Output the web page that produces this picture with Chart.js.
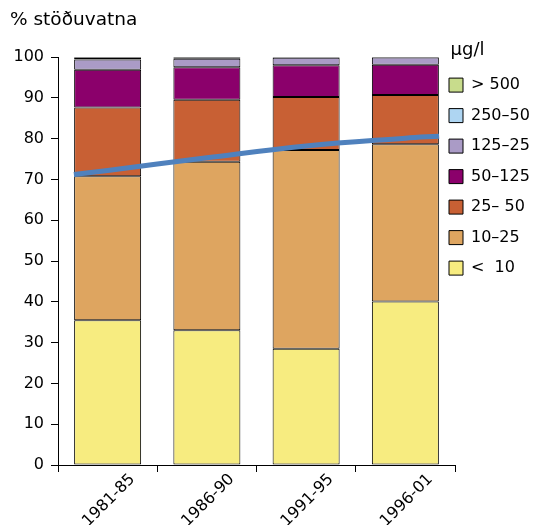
<!DOCTYPE html>
<html>
<head>
<meta charset="utf-8">
<script src="https://cdn.jsdelivr.net/npm/chart.js@4"></script>
<style>
html,body{margin:0;padding:0;background:#fff;}
#wrap{width:536px;height:525px;position:relative;}
</style>
</head>
<body>
<div id="wrap"><canvas id="c"></canvas></div>
<script>
const periods = ['1981-85', '1986-90', '1991-95', '1996-01'];
const classLabels = ['<  10', '10–25', '25– 50', '50–125', '125–25', '250–50', '> 500'];
const lt10     = [35.5, 33.0, 28.5, 40.1];
const c10_25   = [35.3, 41.3, 48.7, 38.5];
const c25_50   = [16.8, 15.2, 13.0, 12.1];
const c50_125  = [9.3, 8.0, 7.8, 7.4];
const c125_250 = [2.5, 2.1, 1.8, 1.8];
const c250_500 = [0.5, 0.3, 0.1, 0.1];
const gt500    = [0.1, 0.1, 0.1, 0.0];
const trendX = [-0.34, 0, 1, 2, 3, 3.34];
const trendY = [71.2, 72.2, 75.3, 78.2, 80.1, 80.6];
const yTicks = [0, 10, 20, 30, 40, 50, 60, 70, 80, 90, 100];

const seriesValues = [lt10, c10_25, c25_50, c50_125, c125_250, c250_500, gt500];
const colors = ['#F7EC80', '#DEA560', '#C86034', '#8B006B', '#AA9BC6', '#AED5F2', '#C8DC8C'];

Chart.defaults.font.family = "'DejaVu Sans', Verdana, sans-serif";
Chart.defaults.color = '#000';

const barSets = seriesValues.map((vals, i) => ({
  type: 'bar',
  label: classLabels[i],
  data: vals,
  backgroundColor: colors[i],
  borderColor: '#000',
  borderWidth: 1,
  borderSkipped: false,
  barPercentage: 0.675,
  categoryPercentage: 1,
  grouped: false,
  stack: 's',
  xAxisID: 'x',
  order: 2
}));

const lineSet = {
  type: 'line',
  label: 'trend',
  data: trendX.map((x, i) => ({x: x, y: trendY[i]})),
  borderColor: '#4F81BD',
  borderWidth: 5,
  pointRadius: 0,
  tension: 0.4,
  fill: false,
  xAxisID: 'xl',
  order: 1
};

const shiftLegend = {
  id: 'shiftLegend',
  afterLayout(chart) {
    if (chart.legend) { chart.legend.left -= 20.5; chart.legend.right = chart.width; }
  }
};

new Chart(document.getElementById('c'), {
  type: 'bar',
  data: { labels: periods, datasets: [...barSets, lineSet] },
  plugins: [shiftLegend],
  options: {
    responsive: true,
    maintainAspectRatio: false,
    animation: false,
    layout: { padding: { left: 10, right: 15, top: 0, bottom: 0 } },
    plugins: {
      tooltip: { enabled: false },
      title: {
        display: true,
        text: '% stöðuvatna',
        align: 'start',
        color: '#000',
        font: { size: 18.5, weight: 'normal' },
        padding: { top: 9.5, bottom: 25.3 }
      },
      legend: {
        display: true,
        position: 'right',
        align: 'start',
        reverse: true,
        maxWidth: 66,
        title: {
          display: true,
          text: 'µg/l',
          position: 'center',
          color: '#000',
          font: { size: 18 },
          padding: { top: 41, bottom: 0 }
        },
        labels: {
          boxWidth: 14,
          boxHeight: 14,
          padding: 14.5,
          color: '#000',
          font: { size: 16 },
          filter: (item) => item.datasetIndex < 7
        }
      }
    },
    scales: {
      x: {
        type: 'category',
        stacked: true,
        offset: true,
        grid: { display: true, offset: true, drawOnChartArea: false, drawTicks: true, tickLength: 7, color: '#000' },
        border: { display: true, color: '#000', width: 1 },
        ticks: { minRotation: 45, maxRotation: 45, labelOffset: 25, padding: -2, color: '#000', font: { size: 16 } },
        afterFit(scale) { scale.height = 60; }
      },
      xl: {
        type: 'linear',
        display: false,
        offset: false,
        min: -0.5,
        max: 3.5
      },
      y: {
        stacked: true,
        min: 0,
        max: 100,
        afterBuildTicks(scale) { scale.ticks = yTicks.map(v => ({value: v})); },
        grid: { display: true, drawOnChartArea: false, drawTicks: true, tickLength: 7, color: '#000' },
        border: { display: true, color: '#000', width: 1 },
        ticks: { padding: 7, color: '#000', font: { size: 16 } },
        afterFit(scale) { scale.width = 48; }
      }
    }
  }
});
</script>
</body>
</html>
